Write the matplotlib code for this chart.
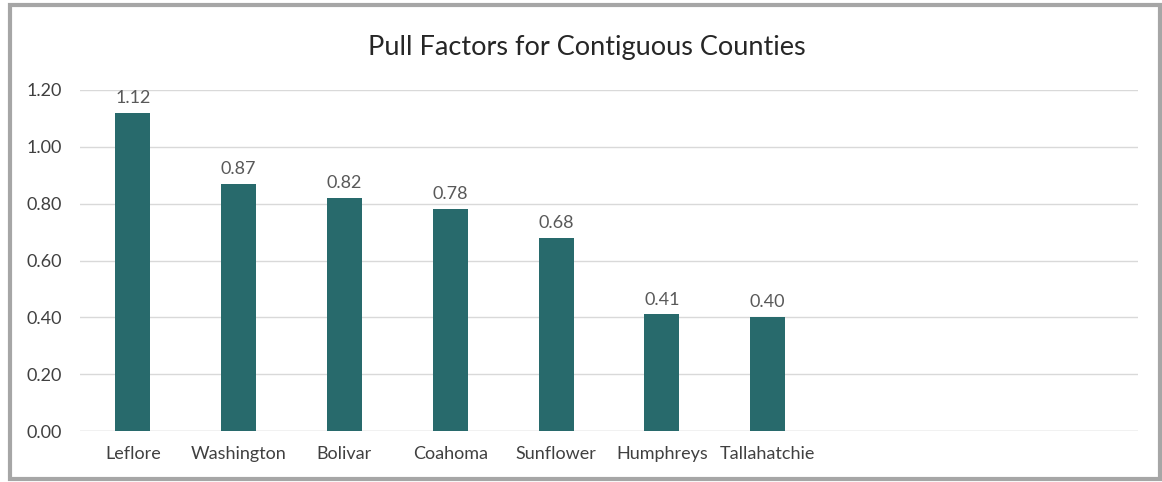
import matplotlib.pyplot as plt
from matplotlib.patches import Rectangle

counties = ["Leflore", "Washington", "Bolivar", "Coahoma", "Sunflower",
            "Humphreys", "Tallahatchie"]
pull_factors = [1.12, 0.87, 0.82, 0.78, 0.68, 0.41, 0.40]
n_slots = 10  # chart keeps three empty category slots on the right
y_ticks = [0.0, 0.2, 0.4, 0.6, 0.8, 1.0, 1.2]

W, H = 1162, 482
fig = plt.figure(figsize=(W / 100, H / 100), dpi=100)
plt.rcParams["font.family"] = ["Lato", "DejaVu Sans"]

ax = fig.add_axes([80 / W, (H - 431) / H, (1138 - 80) / W, (431 - 90) / H])

x = list(range(len(counties)))
bars = ax.bar(x, pull_factors, width=0.33, color="#286A6C", zorder=3)

for xi, v in zip(x, pull_factors):
    ax.annotate(f"{v:.2f}", (xi, v), xytext=(0, 5), textcoords="offset points",
                ha="center", va="bottom", fontsize=13, color="#595959")

ax.set_xlim(-0.5, n_slots - 0.5)
ax.set_ylim(0, 1.2)
ax.set_yticks(y_ticks)
ax.set_yticklabels([f"{t:.2f}" for t in y_ticks])
ax.set_xticks(x)
ax.set_xticklabels(counties)
ax.tick_params(axis="both", length=0, labelsize=13, colors="#404040")
ax.tick_params(axis="y", pad=13)
ax.tick_params(axis="x", pad=11)
ax.grid(axis="y", color="#D9D9D9", linewidth=1, zorder=0)
for s in ax.spines.values():
    s.set_visible(False)
ax.axhline(0, color="#D9D9D9", linewidth=1, zorder=1)

fig.text(587 / W, 1 - 47 / H, "Pull Factors for Contiguous Counties",
         ha="center", va="center", fontsize=19.5, color="#262626")

fig.add_artist(Rectangle((10 / W, 3 / H), 1150 / W, 474 / H,
                         transform=fig.transFigure, fill=False,
                         edgecolor="#A6A6A6", linewidth=3))

fig.savefig("out.png", dpi=100)
